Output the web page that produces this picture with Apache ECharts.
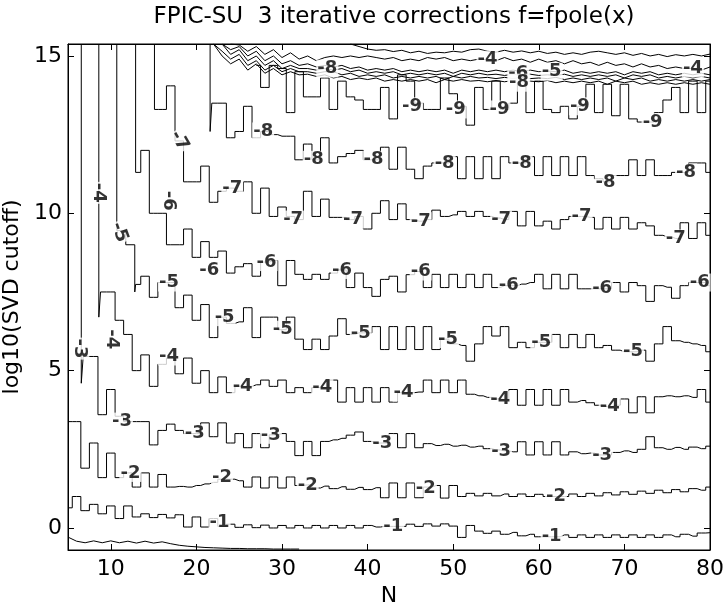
<!DOCTYPE html>
<html>
<head>
<meta charset="utf-8">
<script src="https://cdn.jsdelivr.net/npm/echarts@6/dist/echarts.min.js"></script>
<style>
html,body{margin:0;padding:0;background:#fff}
#fig{width:728px;height:605px}
</style>
</head>
<body>
<div id="fig"></div>
<script>
/* FPIC-SU contour plot, log10(error) levels over N and SVD cutoff */
var FONT = '"DejaVu Sans", "Liberation Sans", Arial, sans-serif';
var yMin = -0.7, yMax = 15.38;

// contour values at integer N; head = points before the first integer N (vertical part)
var lv0Start = 5;
var lv0 = [-0.29,-0.42,-0.47,-0.41,-0.47,-0.41,-0.47,-0.42,-0.48,-0.42,-0.48,-0.44,-0.5,-0.55,-0.58,-0.6,-0.62,-0.63,-0.64,-0.65,-0.65,-0.66,-0.66,-0.66,-0.67,-0.67,-0.67,-0.67];

var lv1Start = 5;
var lv1 = [0.64,1.0,0.55,0.75,0.45,0.7,0.3,0.7,0.35,0.45,0.33,0.43,0.32,0.42,0.03,0.35,0.03,0.3,0.05,0.12,
  0.02,0.1,0.01,0.09,0.0,0.08,0.0,0.08,0.0,0.08,0.0,0.08,0.0,0.08,0.0,0.08,0.03,0.05,0.05,0.05,
  0.12,0.05,0.13,0.06,0.13,0.06,-0.3,0.08,-0.1,-0.17,-0.1,-0.2,-0.14,-0.25,-0.2,-0.28,-0.28,-0.28,-0.22,-0.3,
  -0.22,-0.3,-0.22,-0.3,-0.22,-0.3,-0.22,-0.3,-0.22,-0.3,-0.22,-0.28,-0.2,-0.26,-0.16,-0.15];

var lv2Start = 5;
var lv2 = [3.38,3.38,1.9,2.7,1.6,2.38,1.6,1.75,1.3,1.75,1.3,1.7,1.3,1.32,1.3,1.35,1.4,1.45,1.55,1.55,
  1.5,1.3,1.62,1.27,1.62,1.27,1.62,1.35,1.37,1.27,1.33,1.25,1.31,1.23,1.29,1.22,1.28,0.96,1.43,0.96,
  1.43,0.96,1.3,1.35,0.95,1.35,1.0,1.1,1.02,1.1,1.02,1.08,1.0,1.08,1.0,1.07,1.0,1.0,1.0,1.08,
  1.0,1.1,1.02,1.12,1.05,1.15,1.07,1.17,1.1,1.2,1.12,1.22,1.15,1.25,1.2,1.3];

var lv3Head = [[6.55, yMax], [6.55, 4.6]];
var lv3Start = 7;
var lv3 = [5.45,5.45,3.6,4.4,3.55,3.38,3.38,3.38,2.64,3.1,3.3,3.1,3.0,3.0,3.34,2.9,3.34,2.7,3.0,2.55,
  3.0,2.55,2.96,3.0,2.75,2.3,2.75,2.3,2.75,2.8,2.85,2.95,3.05,2.75,2.7,2.7,3.0,2.55,3.0,2.55,
  2.68,2.62,2.66,2.6,2.63,2.57,2.6,2.52,2.48,2.45,2.42,2.74,2.32,2.74,2.32,2.74,2.32,2.42,2.36,2.38,
  2.32,2.32,2.4,2.45,2.4,2.5,2.9,2.55,2.5,2.56,2.5,2.57,2.52,2.6];

var lv4Head = [[8.6, yMax], [8.6, 6.7]];
var lv4Start = 9;
var lv4 = [7.5,7.5,6.6,6.15,5.0,5.5,4.5,5.2,5.4,4.9,5.4,4.6,5.0,4.3,4.8,4.3,4.5,4.5,4.55,4.7,
  4.5,4.7,4.3,4.46,4.3,4.46,4.46,4.7,4.0,4.46,4.0,4.46,4.0,4.46,4.0,4.3,4.3,4.32,4.7,4.3,
  4.7,4.3,4.7,4.25,4.2,4.15,4.1,4.08,4.4,3.9,4.4,3.9,4.4,3.9,4.4,4.0,4.05,3.98,3.9,3.85,
  3.9,4.1,3.66,4.17,3.66,4.17,4.2,4.17,4.2,4.15,4.4,4.0];

var lv5Head = [[10.7, yMax], [10.7, 9.45], [12.8, 9.0], [12.8, 7.5]];
var lv5Start = 13;
var lv5 = [7.74,8.0,7.33,7.8,7.8,7.0,7.4,6.6,7.1,6.05,6.7,6.5,6.55,7.0,6.05,6.7,6.7,6.3,6.7,6.0,
  5.67,6.0,5.67,6.1,6.65,6.15,6.2,6.2,6.4,5.67,6.4,5.67,6.4,5.67,6.4,5.67,6.0,5.85,5.8,5.3,
  5.85,6.4,6.1,6.4,5.73,5.9,5.73,5.9,5.9,6.15,5.73,6.15,5.73,6.15,5.73,5.8,5.65,5.6,5.6,5.65,
  5.3,5.85,6.4,5.95,5.9,5.85,5.8,5.6];

var lv6Head = [[12.9, yMax], [12.9, 11.3]];
var lv6Start = 13;
var lv6 = [11.3,12.0,10.0,10.0,9.0,9.0,9.5,8.6,9.1,8.6,8.8,8.1,8.3,8.4,8.0,8.45,8.5,7.7,8.5,8.06,
  7.9,8.06,7.9,8.1,8.2,7.64,8.1,7.64,7.36,7.9,8.0,7.5,8.05,8.15,7.64,8.06,7.64,8.06,7.64,8.06,
  7.64,8.06,7.64,7.7,7.7,7.75,7.8,8.06,7.6,8.06,7.6,8.06,7.6,7.6,7.6,7.6,7.8,7.5,7.8,7.7,
  7.2,7.7,7.65,7.3,7.7,7.8,7.8,7.7];

var lv7Head = [[15.1, yMax], [15.1, 13.3]];
var lv7Start = 16;
var lv7 = [13.3,14.05,12.3,11.0,11.0,11.5,10.35,10.7,10.8,10.7,11.0,10.0,10.8,9.9,10.2,9.9,9.8,10.7,9.9,10.45,
  9.87,9.87,9.8,9.9,9.5,10.0,10.4,9.8,10.3,9.8,9.75,9.8,10.1,9.9,9.95,10.06,9.9,10.06,9.9,9.85,
  9.8,10.06,9.6,10.06,9.6,9.75,9.5,9.8,9.9,9.9,9.87,9.5,9.87,9.5,9.87,9.5,9.7,9.6,9.3,9.25,
  9.2,9.7,9.2,9.7,9.3];

var lv8Head = [[21.6, yMax], [21.6, 12.6]];
var lv8Start = 22;
var lv8 = [13.5,13.5,12.4,12.6,13.4,12.4,12.6,12.5,12.45,12.45,11.7,12.2,11.7,12.4,11.6,11.8,11.9,12.0,11.7,11.7,
  12.1,11.4,12.1,11.4,11.1,11.5,11.6,11.6,11.8,11.1,11.8,11.1,11.8,11.1,11.8,11.6,11.6,11.8,11.2,11.8,
  11.2,11.8,11.2,11.8,11.2,11.1,11.0,11.2,11.2,11.7,11.2,11.7,11.2,11.2,11.3,11.3,11.6,11.6,11.3];

var lv9Start = 27;
var lv9 = [14.7,14.0,14.7,14.6,13.2,14.5,13.7,13.7,14.3,13.3,14.2,13.7,13.6,13.3,13.3,14.0,13.0,14.4,14.2,13.5,
  13.3,13.3,14.3,13.8,13.4,12.8,14.0,13.3,14.2,13.3,13.5,14.2,13.2,14.2,13.3,13.2,13.4,13.0,13.4,14.1,
  13.2,14.1,13.1,14.1,13.0,12.9,12.9,13.2,13.6,14.0,13.2,14.2,13.2,14.2];

// the crowded band just under the top edge
var bandTopStart = 38;
var bandTop = [15.38,15.3,15.22,15.18,15.2,15.14,15.18,15.1,15.15,15.08,15.12,15.1,15.15,15.12,15.2,15.22,15.15,15.12,15.18,15.12,
  15.16,15.1,15.15,15.08,15.12,15.05,15.1,15.05,15.12,15.15,15.1,15.05,15.1,15.02,15.08,15.0,15.05,14.98,15.04,15.0,
  15.05,15.0,15.06];

var band4Start = 24;
var band4 = [15.38,15.35,15.15,15.3,15.05,15.2,14.95,15.1,14.9,15.0,14.85,14.95,15.0,14.95,15.0,14.95,15.0,14.95,14.9,14.95,
  14.85,14.9,14.85,14.95,14.9,14.95,14.85,14.9,14.85,14.9,14.88,14.85,14.95,14.85,14.9,14.8,14.9,14.8,14.85,14.75,
  14.85,14.75,14.8,14.7,14.8,14.7,14.75,14.65,14.75,14.65,14.7,14.6,14.65,14.6,14.6,14.55,14.65];

var band5Start = 23;
var band5 = [15.38,15.2,15.3,15.0,15.15,14.85,15.0,14.75,14.85,14.7,14.75,14.65,14.7,14.65,14.7,14.6,14.65,14.55,14.6,14.55,
  14.6,14.5,14.55,14.5,14.55,14.5,14.55,14.45,14.55,14.5,14.55,14.5,14.55,14.5,14.55,14.5,14.55,14.5,14.52,14.5,
  14.55,14.45,14.5,14.45,14.5,14.45,14.5,14.4,14.5,14.45,14.5,14.4,14.45,14.4,14.45,14.4,14.45,14.4];

var band6Start = 23;
var band6 = [15.38,15.05,15.2,14.85,15.0,14.7,14.85,14.6,14.7,14.6,14.6,14.55,14.6,14.55,14.6,14.5,14.55,14.45,14.5,14.45,
  14.5,14.4,14.45,14.4,14.45,14.4,14.45,14.35,14.45,14.4,14.45,14.4,14.42,14.38,14.42,14.38,14.42,14.38,14.4,14.38,
  14.42,14.35,14.4,14.35,14.4,14.35,14.4,14.3,14.4,14.35,14.4,14.3,14.35,14.3,14.35,14.3,14.35,14.3];

var band7Start = 22;
var band7 = [15.38,15.15,14.9,15.05,14.7,14.85,14.55,14.7,14.5,14.6,14.5,14.5,14.45,14.5,14.5,14.4,14.45,14.35,14.4,14.35,
  14.4,14.3,14.35,14.3,14.35,14.3,14.35,14.25,14.35,14.3,14.35,14.3,14.32,14.28,14.32,14.28,14.32,14.28,14.3,14.28,
  14.32,14.25,14.3,14.25,14.3,14.25,14.3,14.2,14.3,14.25,14.3,14.2,14.25,14.2,14.25,14.2,14.25,14.2,14.25];

var band8Start = 22;
var band8 = [15.38,15.0,14.75,14.9,14.55,14.75,14.45,14.6,14.4,14.5,14.4,14.42,14.35,14.4,14.3,14.35,14.25,14.3,14.25,14.3,
  14.2,14.25,14.2,14.25,14.2,14.25,14.15,14.25,14.2,14.25,14.2,14.22,14.18,14.22,14.18,14.22,14.18,14.2,14.18,14.22,
  14.15,14.2,14.15,14.2,14.15,14.2,14.1,14.2,14.15,14.2,14.1,14.15,14.1,14.15,14.1,14.15,14.1,14.15,14.1];

// contour labels
var labN = [22.7,43.0,61.5, 12.3,23.0,33.0,46.8,62.0, 6.4,11.3,19.8,28.7,41.7,55.6,67.4,
  8.6,10.1,16.8,25.4,34.7,44.2,55.5,68.3,54.0,78.0,
  11.0,16.8,23.3,30.1,39.2,49.4,60.3,71.0,61.5,
  16.8,21.5,28.2,37.0,46.2,56.5,67.4,78.8,57.6,
  18.0,24.2,31.3,38.3,46.2,55.6,65.0,76.0,
  27.8,33.7,40.7,49.0,58.0,67.8,77.2,35.3,57.7,
  45.2,50.3,55.4,64.8,73.3];
var labY = [0.18,0.05,-0.28, 1.75,1.6,1.37,1.27,1.0, 5.7,3.38,3.0,2.96,2.7,2.45,2.32,
  10.65,6.0,5.45,4.5,4.46,4.3,4.08,3.85,14.88,14.6,
  9.4,7.8,6.7,6.3,6.2,6.0,5.9,5.6,14.5,
  10.4,8.2,8.45,8.2,8.15,7.7,7.6,7.8,14.45,
  12.3,10.8,9.8,9.8,9.75,9.8,9.9,9.2,
  12.6,11.7,11.7,11.6,11.6,11.0,11.3,14.6,14.15,
  13.4,13.3,13.3,13.4,12.9];
var labTxt = ['-1','-1','-1', '-2','-2','-2','-2','-2', '-3','-3','-3','-3','-3','-3','-3',
  '-4','-4','-4','-4','-4','-4','-4','-4','-4','-4',
  '-5','-5','-5','-5','-5','-5','-5','-5','-5',
  '-6','-6','-6','-6','-6','-6','-6','-6','-6',
  '-7','-7','-7','-7','-7','-7','-7','-7',
  '-8','-8','-8','-8','-8','-8','-8','-8','-8',
  '-9','-9','-9','-9','-9'];
var labRot = [0,0,0, 0,0,0,0,0, -90,0,0,0,0,0,0,
  -90,-90,0,0,0,0,0,0,0,0,
  -70,0,0,0,0,0,0,0,0,
  -90,0,0,0,0,0,0,0,0,
  -60,0,0,0,0,0,0,0,
  0,0,0,0,0,0,0,0,0,
  0,0,0,0,0];

function pts(head, start, vals) {
    var out = head ? head.slice() : [];
    for (var i = 0; i < vals.length; i++) {
        out.push([start + i, vals[i]]);
    }
    return out;
}

function contour(data, step) {
    return {
        type: 'line',
        data: data,
        step: step ? 'middle' : false,
        symbol: 'none',
        silent: true,
        lineStyle: {color: '#000', width: 1},
        z: 2
    };
}

var series = [
    contour(pts(null, lv0Start, lv0), false),
    contour(pts(null, lv1Start, lv1), true),
    contour(pts(null, lv2Start, lv2), true),
    contour(pts(lv3Head, lv3Start, lv3), true),
    contour(pts(lv4Head, lv4Start, lv4), true),
    contour(pts(lv5Head, lv5Start, lv5), true),
    contour(pts(lv6Head, lv6Start, lv6), true),
    contour(pts(lv7Head, lv7Start, lv7), true),
    contour(pts(lv8Head, lv8Start, lv8), true),
    contour(pts(null, lv9Start, lv9), true),
    contour(pts(null, bandTopStart, bandTop), false),
    contour(pts(null, band4Start, band4), false),
    contour(pts(null, band5Start, band5), false),
    contour(pts(null, band6Start, band6), false),
    contour(pts(null, band7Start, band7), false),
    contour(pts(null, band8Start, band8), false)
];

var labData = [];
for (var i = 0; i < labN.length; i++) {
    labData.push({
        name: labTxt[i],
        value: [labN[i], labY[i]],
        label: {rotate: labRot[i]}
    });
}
series.push({
    type: 'scatter',
    data: labData,
    symbolSize: 1,
    silent: true,
    itemStyle: {color: 'rgba(0,0,0,0)'},
    z: 5,
    label: {
        show: true,
        position: 'inside',
        formatter: '{b}',
        color: '#000',
        fontFamily: FONT,
        fontWeight: 'bold',
        fontSize: 18,
        backgroundColor: '#fff',
        padding: [0, 1]
    }
});

function tickFmt(step) {
    return function (v) {
        return Math.abs(v / step - Math.round(v / step)) < 1e-6 ? String(Math.round(v)) : '';
    };
}

var axisCommon = {
    axisLine: {show: true, onZero: false, lineStyle: {color: '#000', width: 1}},
    axisTick: {show: true, inside: true, length: 6, lineStyle: {color: '#000'}},
    splitLine: {show: false}
};

var myChart = echarts.init(document.getElementById('fig'), null, {renderer: 'canvas'});
var option = {
    animation: false,
    backgroundColor: '#fff',
    title: {
        text: 'FPIC-SU  3 iterative corrections f=fpole(x)',
        left: 389,
        top: 1,
        textAlign: 'center',
        textStyle: {fontFamily: FONT, fontSize: 23, fontWeight: 'normal', color: '#000'}
    },
    grid: {
        left: 68, right: 18, top: 44, bottom: 55,
        show: true, borderColor: '#000', borderWidth: 1,
        containLabel: false, outerBoundsMode: 'none'
    },
    xAxis: [
        echarts.util.merge({
            type: 'value', min: 5, max: 80, splitNumber: 8, position: 'bottom',
            name: 'N', nameLocation: 'middle', nameGap: 32,
            nameTextStyle: {fontFamily: FONT, fontSize: 22, color: '#000'},
            axisLabel: {formatter: tickFmt(10), fontFamily: FONT, fontSize: 22, color: '#000', margin: 8}
        }, axisCommon, true),
        echarts.util.merge({
            type: 'value', min: 5, max: 80, splitNumber: 8, position: 'top',
            axisLabel: {show: false}
        }, axisCommon, true)
    ],
    yAxis: [
        echarts.util.merge({
            type: 'value', min: yMin, max: yMax, splitNumber: 3, position: 'left',
            name: 'log10(SVD cutoff)', nameLocation: 'middle', nameGap: 39, nameRotate: 90,
            nameTextStyle: {fontFamily: FONT, fontSize: 22, color: '#000'},
            axisLabel: {formatter: tickFmt(5), fontFamily: FONT, fontSize: 22, color: '#000', margin: 6}
        }, axisCommon, true),
        echarts.util.merge({
            type: 'value', min: yMin, max: yMax, splitNumber: 3, position: 'right',
            axisLabel: {show: false}
        }, axisCommon, true)
    ],
    series: series
};
myChart.setOption(option);
</script>
</body>
</html>
